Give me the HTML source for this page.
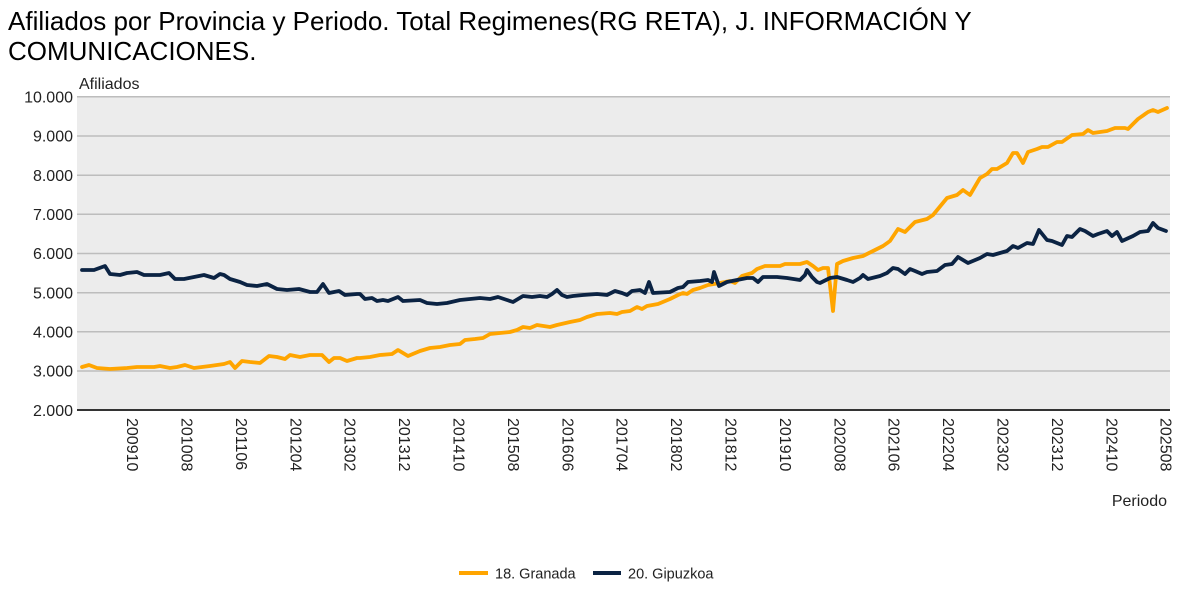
<!DOCTYPE html>
<html><head><meta charset="utf-8"><style>
html,body{margin:0;padding:0;background:#fff;}
svg{display:block;}
text{font-family:"Liberation Sans",Arial,sans-serif;}
</style></head><body>
<svg width="1178" height="593" viewBox="0 0 1178 593" xmlns="http://www.w3.org/2000/svg">
<rect x="0" y="0" width="1178" height="593" fill="#fff"/>
<text x="8" y="30" font-size="26" fill="#000">Afiliados por Provincia y Periodo. Total Regimenes(RG RETA), J. INFORMACIÓN Y</text>
<text x="8" y="60" font-size="26" fill="#000">COMUNICACIONES.</text>
<rect x="77" y="97" width="1093" height="313" fill="#ececec"/>
<g stroke="#bdbdbd" stroke-width="1.5">
<line x1="77" y1="96.8" x2="1170" y2="96.8"/>
<line x1="77" y1="136" x2="1170" y2="136"/>
<line x1="77" y1="175.2" x2="1170" y2="175.2"/>
<line x1="77" y1="214.3" x2="1170" y2="214.3"/>
<line x1="77" y1="253.5" x2="1170" y2="253.5"/>
<line x1="77" y1="292.7" x2="1170" y2="292.7"/>
<line x1="77" y1="331.8" x2="1170" y2="331.8"/>
<line x1="77" y1="371" x2="1170" y2="371"/>
</g>
<line x1="77" y1="410" x2="1170" y2="410" stroke="#333" stroke-width="2"/>
<text x="79" y="89" font-size="16" fill="#222">Afiliados</text>
<g font-size="16" fill="#222" text-anchor="end">
<text x="73" y="102.5">10.000</text>
<text x="73" y="141.7">9.000</text>
<text x="73" y="180.9">8.000</text>
<text x="73" y="220">7.000</text>
<text x="73" y="259.2">6.000</text>
<text x="73" y="298.4">5.000</text>
<text x="73" y="337.5">4.000</text>
<text x="73" y="376.7">3.000</text>
<text x="73" y="415.9">2.000</text>
</g>
<g font-size="16" fill="#222">
<text transform="translate(132.7,418) rotate(90)" dy="0.35em">200910</text>
<text transform="translate(187.1,418) rotate(90)" dy="0.35em">201008</text>
<text transform="translate(241.5,418) rotate(90)" dy="0.35em">201106</text>
<text transform="translate(295.9,418) rotate(90)" dy="0.35em">201204</text>
<text transform="translate(350.3,418) rotate(90)" dy="0.35em">201302</text>
<text transform="translate(404.7,418) rotate(90)" dy="0.35em">201312</text>
<text transform="translate(459.1,418) rotate(90)" dy="0.35em">201410</text>
<text transform="translate(513.5,418) rotate(90)" dy="0.35em">201508</text>
<text transform="translate(567.9,418) rotate(90)" dy="0.35em">201606</text>
<text transform="translate(622.3,418) rotate(90)" dy="0.35em">201704</text>
<text transform="translate(676.7,418) rotate(90)" dy="0.35em">201802</text>
<text transform="translate(731.1,418) rotate(90)" dy="0.35em">201812</text>
<text transform="translate(785.5,418) rotate(90)" dy="0.35em">201910</text>
<text transform="translate(839.9,418) rotate(90)" dy="0.35em">202008</text>
<text transform="translate(894.3,418) rotate(90)" dy="0.35em">202106</text>
<text transform="translate(948.7,418) rotate(90)" dy="0.35em">202204</text>
<text transform="translate(1003.1,418) rotate(90)" dy="0.35em">202302</text>
<text transform="translate(1057.5,418) rotate(90)" dy="0.35em">202312</text>
<text transform="translate(1111.9,418) rotate(90)" dy="0.35em">202410</text>
<text transform="translate(1166.3,418) rotate(90)" dy="0.35em">202508</text>
</g>
<text x="1167" y="506" font-size="16" fill="#222" text-anchor="end">Periodo</text>
<polyline fill="none" stroke="#FFA500" stroke-width="3.8" stroke-linejoin="round" stroke-linecap="round" points="82,367 89,365 97,368 110,369 127,368 137,367 154,367 160,366 170,368 177,367 185,365 194,368 210,366 224,364 230,362 235,368 242,361 250,362 260,363 269,356 277,357 285,359 290,355 300,357 310,355 322,355 329,362 334,358 340,358 347,361 357,358 360,358 370,357 380,355 392,354 398,350 403,353 408,356 420,351 430,348 440,347 450,345 460,344 465,340 475,339 483,338 490,334 500,333 510,332 517,330 523,327 530,328 537,325 550,327 557,325 570,322 580,320 587,317 597,314 610,313 617,314 622,312 630,311 637,307 642,309 647,306 658,304 670,299 678,295 683,293 687,294 693,290 700,288 708,285 720,283 730,281 735,283 742,276 752,273 757,269 765,266 780,266 785,264 790,264 800,264 807,262 813,266 818,270 823,268 828,268 833,311 837,264 843,261 853,258 863,256 873,251 883,246 890,241 898,229 905,232 915,222 927,219 933,215 947,198 957,195 963,190 970,195 980,178 987,174 992,169 997,169 1007,163 1013,153 1017,153 1023,163 1028,152 1037,149 1042,147 1048,147 1057,142 1062,142 1072,135 1083,134 1088,130 1093,133 1107,131 1115,128 1125,128 1128,129 1138,119 1148,112 1153,110 1158,112 1167,108"/>
<polyline fill="none" stroke="#0b2343" stroke-width="3.8" stroke-linejoin="round" stroke-linecap="round" points="82,270 94,270 105,266 110,274 120,275 127,273 137,272 144,275 160,275 169,273 175,279 184,279 194,277 204,275 214,278 220,274 224,275 230,279 240,282 247,285 257,286 267,284 277,289 287,290 299,289 310,292 317,292 323,284 329,293 339,291 345,295 357,294 360,294 365,299 372,298 377,301 383,300 388,301 398,297 403,301 420,300 427,303 437,304 447,303 460,300 470,299 480,298 490,299 498,297 507,300 513,302 523,296 532,297 540,296 547,297 552,294 557,290 562,295 567,297 573,296 583,295 597,294 607,295 615,291 622,293 627,295 632,291 640,290 645,293 649,282 653,293 670,292 678,288 683,287 688,282 700,281 708,280 712,282 714,272 719,286 727,282 737,280 747,278 753,278 758,282 763,277 777,277 787,278 800,280 805,275 807,270 812,277 817,282 820,283 830,278 837,277 847,280 853,282 860,278 863,275 868,279 880,276 887,273 893,268 898,269 905,274 910,269 915,271 922,274 927,272 937,271 945,265 952,264 958,257 968,263 980,258 987,254 993,255 1007,251 1013,246 1018,248 1027,243 1033,244 1039,230 1047,240 1052,241 1062,245 1067,236 1072,237 1080,229 1085,231 1093,236 1098,234 1107,231 1112,236 1117,232 1122,241 1133,236 1140,232 1148,231 1153,223 1158,228 1166,231"/>
<line x1="459" y1="573" x2="488" y2="573" stroke="#FFA500" stroke-width="4"/>
<text x="495" y="578.5" font-size="14.5" fill="#222">18. Granada</text>
<line x1="593" y1="573" x2="621" y2="573" stroke="#0b2343" stroke-width="4"/>
<text x="628" y="578.5" font-size="14.5" fill="#222">20. Gipuzkoa</text>
</svg>
</body></html>
